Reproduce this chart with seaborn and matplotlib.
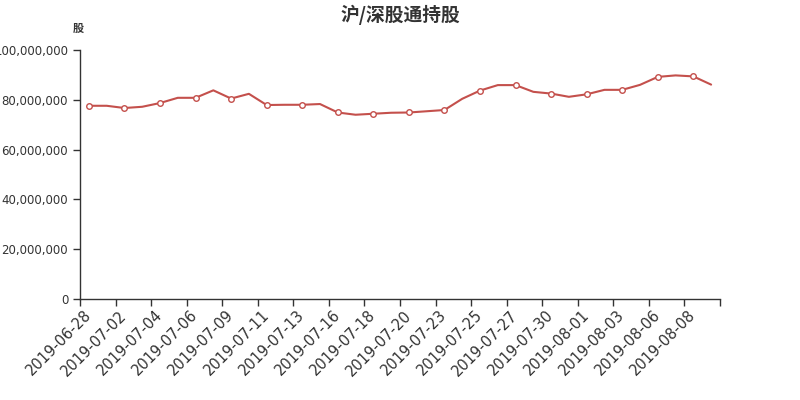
import pandas as pd
import seaborn as sns
import matplotlib.pyplot as plt
from matplotlib.ticker import FuncFormatter

# trading dates (category axis)
dates = ['2019-06-28', '2019-07-01', '2019-07-02', '2019-07-03', '2019-07-04', '2019-07-05',
         '2019-07-06', '2019-07-08', '2019-07-09', '2019-07-10', '2019-07-11', '2019-07-12',
         '2019-07-13', '2019-07-15', '2019-07-16', '2019-07-17', '2019-07-18', '2019-07-19',
         '2019-07-20', '2019-07-22', '2019-07-23', '2019-07-24', '2019-07-25', '2019-07-26',
         '2019-07-27', '2019-07-29', '2019-07-30', '2019-07-31', '2019-08-01', '2019-08-02',
         '2019-08-03', '2019-08-05', '2019-08-06', '2019-08-07', '2019-08-08', '2019-08-09']

# holdings in millions of shares
holdings_m = [77.6, 77.6, 76.7, 77.2, 78.7, 80.8, 80.8, 83.8, 80.5, 82.4,
              77.9, 78.0, 78.0, 78.3, 74.9, 74.0, 74.4, 74.8, 74.9, 75.4,
              75.9, 80.4, 83.7, 85.9, 85.9, 83.2, 82.5, 81.2, 82.2, 84.0,
              84.0, 86.0, 89.2, 89.8, 89.4, 86.1]

df = pd.DataFrame({'date': dates, 'shares': [v * 1e6 for v in holdings_m]})

sns.set_style('white')
plt.rcParams['font.family'] = ['DejaVu Sans', 'Noto Sans CJK SC']

fig = plt.figure(figsize=(8, 4), dpi=100)
ax = fig.add_axes([0.1, 0.2525, 0.8, 0.6225])

line_color = '#c4504c'
sns.lineplot(data=df, x='date', y='shares', ax=ax, color=line_color, linewidth=1.5,
             marker='o', markersize=4, markerfacecolor='white', markeredgecolor=line_color,
             markeredgewidth=1, markevery=2, sort=False)

n = len(dates)
ax.set_xlim(-0.5, n - 0.5)
ax.set_ylim(0, 100e6)
ax.set_yticks(range(0, 100000001, 20000000))
ax.yaxis.set_major_formatter(FuncFormatter(lambda v, p: f'{v:,.0f}'))

# ticks on band boundaries, labels at band centres (every other category)
ax.set_xticks([i - 0.5 for i in range(0, n + 1, 2)])
ax.set_xticklabels([])
ax.set_xticks(list(range(0, n, 2)), minor=True)
ax.set_xticklabels(dates[::2], minor=True, rotation=45, ha='right', va='center',
                   rotation_mode='anchor', fontsize=10.5, color='#333333')
ax.tick_params(axis='x', which='minor', bottom=True, length=0, pad=10)
ax.tick_params(axis='x', which='major', bottom=True, length=5, width=1,
               color='#333333', direction='out')
ax.tick_params(axis='y', left=True, length=5, width=1, color='#333333', direction='out',
               labelsize=8.5, labelcolor='#333333')

for s in ['top', 'right']:
    ax.spines[s].set_visible(False)
for s in ['left', 'bottom']:
    ax.spines[s].set_color('#333333')
    ax.spines[s].set_linewidth(1)

ax.set_xlabel('')
ax.set_ylabel('')
ax.grid(False)

fig.text(0.5, 0.963, '沪/深股通持股', ha='center', va='center', fontsize=13.5,
         fontweight='bold', color='#333333', family=['Noto Sans CJK SC', 'DejaVu Sans'])
fig.text(0.098, 0.928, '股', ha='center', va='center', fontsize=8,
         fontweight='bold', color='#333333', family=['Noto Sans CJK SC', 'DejaVu Sans'])

fig.savefig('out.png', dpi=100)
